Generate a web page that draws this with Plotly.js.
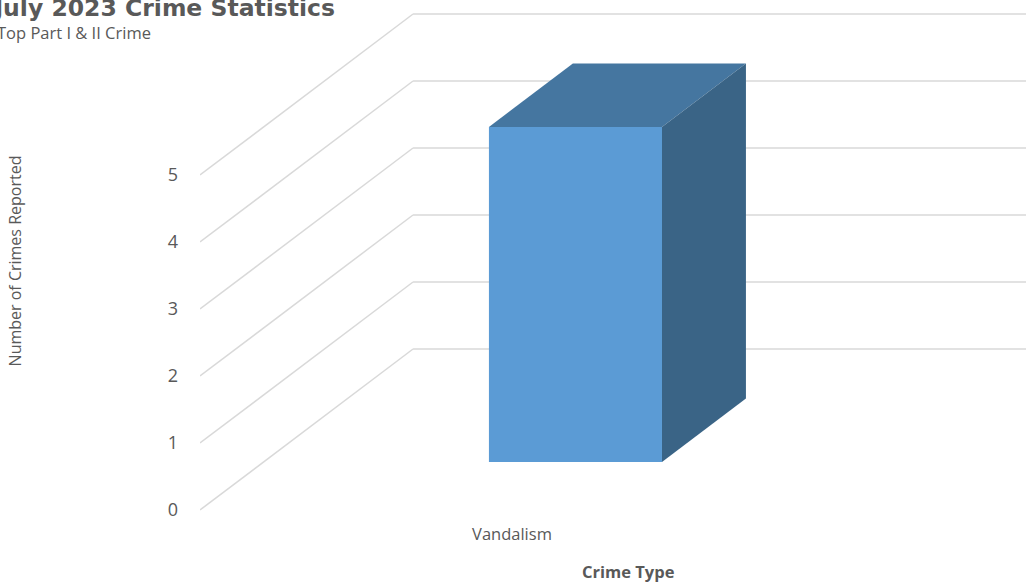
<!DOCTYPE html>
<html>
<head>
<meta charset="utf-8">
<script src="https://cdn.plot.ly/plotly-3.0.1.min.js"></script>
<style>
  html, body { margin: 0; padding: 0; background: #ffffff; }
  #chart { width: 1026px; height: 582px; }
</style>
</head>
<body>
<div id="chart"></div>
<script>
// ---- Data ----
const categories = ['Vandalism'];
const values = [5];
const yTickValues = [0, 1, 2, 3, 4, 5];
const chartTitle = 'July 2023 Crime Statistics';
const chartSubtitle = 'Top Part I & II Crime';
const xAxisTitle = 'Crime Type';
const yAxisTitle = 'Number of Crimes Reported';

// ---- Pseudo-3D projection settings (axis units) ----
const X_MIN = -0.508, X_MAX = 0.837;   // floor front starts at X_MIN
const Y_MIN = -0.179, Y_MAX = 7.612;
const DEPTH_DX = 0.3469;               // full depth shift in x units
const DEPTH_DY = 2.403;                // full depth shift in y units
const BAR_WIDTH = 0.2818;
const BAR_D0 = 0.298, BAR_D1 = 0.692;  // bar depth span (0 = front, 1 = back wall)

const frontColor = '#5B9BD5';
const topColor = '#4576A0';
const sideColor = '#3A6486';
const gridColor = '#D9D9D9';
const textColor = '#595959';

// ---- Gridlines: side wall diagonals + back wall horizontals ----
const shapes = [];
yTickValues.forEach(t => {
  shapes.push({
    type: 'line', xref: 'x', yref: 'y', layer: 'below',
    x0: X_MIN, y0: t, x1: X_MIN + DEPTH_DX, y1: t + DEPTH_DY,
    line: { color: gridColor, width: 1.5 }
  });
  shapes.push({
    type: 'line', xref: 'x', yref: 'y', layer: 'below',
    x0: X_MIN + DEPTH_DX, y0: t + DEPTH_DY, x1: X_MAX + 0.05, y1: t + DEPTH_DY,
    line: { color: gridColor, width: 1.5 }
  });
});

// ---- Bars ----
const xIdx = categories.map((c, i) => i);
const traces = [];

// front face: real bar trace
traces.push({
  type: 'bar',
  x: xIdx,
  y: values,
  base: values.map(() => BAR_D0 * DEPTH_DY),
  width: values.map(() => BAR_WIDTH),
  offset: values.map(() => -BAR_WIDTH / 2 + BAR_D0 * DEPTH_DX),
  marker: { color: frontColor, line: { width: 0 } },
  hovertemplate: '%{customdata}: %{y}<extra></extra>',
  customdata: categories,
  showlegend: false
});

// top and side faces, computed from the same values
values.forEach((v, i) => {
  const xl = xIdx[i] - BAR_WIDTH / 2, xr = xIdx[i] + BAR_WIDTH / 2;
  const a0x = BAR_D0 * DEPTH_DX, a0y = BAR_D0 * DEPTH_DY;
  const a1x = BAR_D1 * DEPTH_DX, a1y = BAR_D1 * DEPTH_DY;
  traces.push({
    type: 'scatter', mode: 'lines', fill: 'toself',
    x: [xl + a0x, xl + a1x, xr + a1x, xr + a0x, xl + a0x],
    y: [v + a0y, v + a1y, v + a1y, v + a0y, v + a0y],
    fillcolor: topColor, line: { width: 0, color: topColor },
    hoverinfo: 'skip', showlegend: false
  });
  traces.push({
    type: 'scatter', mode: 'lines', fill: 'toself',
    x: [xr + a0x, xr + a0x, xr + a1x, xr + a1x, xr + a0x],
    y: [a0y, v + a0y, v + a1y, a1y, a0y],
    fillcolor: sideColor, line: { width: 0, color: sideColor },
    hoverinfo: 'skip', showlegend: false
  });
});

const baseFont = 'Open Sans, Noto Sans, sans-serif';

const layout = {
  width: 1026, height: 582,
  margin: { l: 200, r: 0, t: 0, b: 60, pad: 0 },
  paper_bgcolor: '#ffffff', plot_bgcolor: 'rgba(0,0,0,0)',
  font: { family: baseFont, color: textColor },
  showlegend: false,
  title: {
    text: '<b>' + chartTitle + '</b>',
    xref: 'container', yref: 'container',
    x: 335 / 1026, xanchor: 'right',
    y: 1 - 8 / 582, yanchor: 'middle',
    font: { family: 'DejaVu Sans, sans-serif', size: 23.5, color: textColor }
  },
  xaxis: {
    range: [X_MIN, X_MAX],
    tickvals: xIdx, ticktext: categories,
    showgrid: false, zeroline: false, showline: false, ticks: '',
    tickfont: { size: 16.5, color: textColor },
    fixedrange: true
  },
  yaxis: {
    range: [Y_MIN, Y_MAX],
    tickvals: yTickValues, ticktext: yTickValues.map(String),
    showgrid: false, zeroline: false, showline: false, ticks: '',
    ticklabelstandoff: 21,
    tickfont: { size: 18, color: textColor },
    title: { text: yAxisTitle, standoff: 142, font: { size: 16, color: textColor } },
    automargin: false,
    fixedrange: true
  },
  shapes: shapes,
  annotations: [
    {
      text: chartSubtitle, xref: 'paper', yref: 'paper',
      x: (153 - 200) / 826, xanchor: 'right',
      y: (522 - 33) / 522, yanchor: 'middle',
      showarrow: false, font: { size: 16.5, color: textColor }
    },
    {
      text: '<b>' + xAxisTitle + '</b>', xref: 'paper', yref: 'paper',
      x: (628 - 200) / 826, xanchor: 'center',
      y: -(571 - 522) / 522, yanchor: 'middle',
      showarrow: false, font: { size: 16.5, color: textColor }
    }
  ]
};

Plotly.newPlot('chart', traces, layout, { displayModeBar: false, staticPlot: false });
</script>
</body>
</html>
